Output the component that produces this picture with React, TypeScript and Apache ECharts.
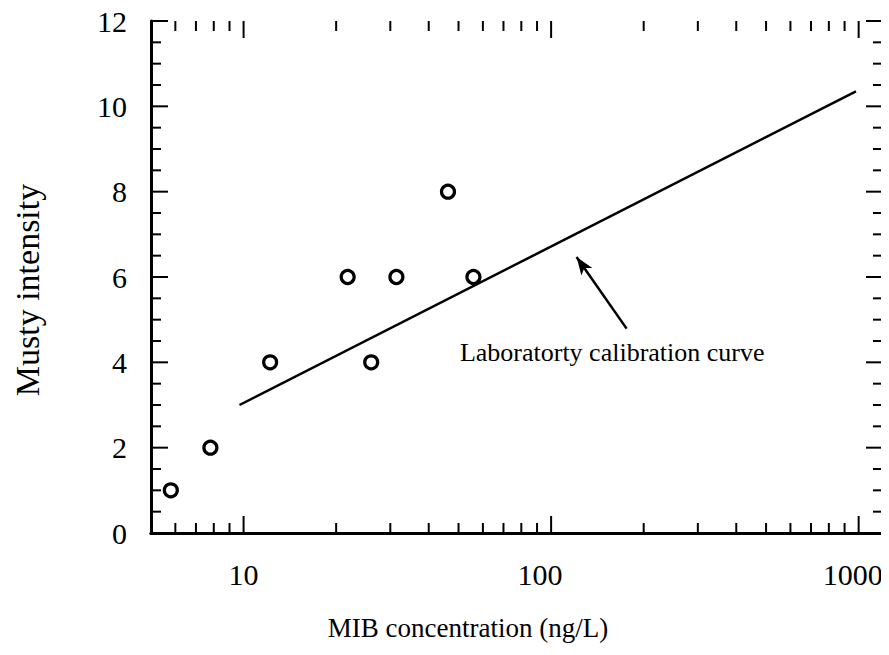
import React, { useEffect, useRef } from "react";
import * as echarts from "echarts";

// MIB concentration (ng/L) vs. panel musty intensity
const mibConcentration = [5.8, 7.8, 12.2, 21.8, 26.0, 31.4, 46.2, 55.9];
const mustyIntensity = [1, 2, 4, 6, 4, 6, 8, 6];

// Laboratory calibration curve end points
const calibrationX = [9.7, 980];
const calibrationY = [3.0, 10.35];

// Annotation arrow (tail -> head) and label anchor
const arrowTail = [176, 4.79];
const arrowHead = [121, 6.47];
const noteAnchor = [158, 4.23];
const noteText = "Laboratorty calibration curve";

// Axis ranges and ticks
const xMin = 5;
const xMax = 1200;
const yMin = 0;
const yMax = 12;
const yStep = 2;
const xMajorTicks = [10, 100, 1000];
const xMinorTicks = [6, 7, 8, 9, 20, 30, 40, 50, 60, 70, 80, 90, 200, 300, 400, 500, 600, 700, 800, 900];
const yMajorTicks = [0, 2, 4, 6, 8, 10, 12];
const yMinorTicks = [0.5, 1, 1.5, 2.5, 3, 3.5, 4.5, 5, 5.5, 6.5, 7, 7.5, 8.5, 9, 9.5, 10.5, 11, 11.5];

const FONT = "'Liberation Serif', 'Times New Roman', serif";
const MAJOR_LEN = 17;
const MINOR_LEN = 10;

export default function App() {
  const ref = useRef<HTMLDivElement>(null);

  useEffect(() => {
    if (!ref.current) return;
    const chart = echarts.init(ref.current, null, { renderer: "svg" });

    const axisLine = { show: true, lineStyle: { color: "#000", width: 3 } };
    const tickStyle = { stroke: "#000", lineWidth: 2 };

    const xBase = {
      type: "log" as const,
      logBase: 10,
      min: xMin,
      max: xMax,
      axisLine,
      axisTick: { show: false },
      splitLine: { show: false },
    };

    const yBase = {
      type: "value" as const,
      min: yMin,
      max: yMax,
      interval: yStep,
      axisLine,
      axisTick: { show: false },
      minorTick: { show: false },
      splitLine: { show: false },
    };

    const labelStyle = {
      fontSize: 30,
      fontFamily: FONT,
      color: "#000",
    };

    chart.setOption({
      animation: false,
      backgroundColor: "#fff",
      grid: { left: 151, right: 6, top: 21, bottom: 122, containLabel: false },
      xAxis: [
        {
          ...xBase,
          position: "bottom",
          axisLabel: {
            show: true,
            margin: 26,
            ...labelStyle,
            formatter: (v: number) => {
              const r = Math.round(v);
              if (!xMajorTicks.includes(r) || Math.abs(v - r) > 1e-6 * r) return "";
              if (r === 100) return "{p100|" + r + "}";
              if (r === 1000) return "{p1000|" + r + "}";
              return String(r);
            },
            rich: {
              p100: { ...labelStyle, padding: [0, 22, 0, 0] },
              p1000: { ...labelStyle, padding: [0, 12, 0, 0] },
            },
          },
        },
        {
          ...xBase,
          position: "top",
          axisLabel: { show: false },
        },
      ],
      yAxis: [
        {
          ...yBase,
          position: "left",
          axisLabel: { show: true, margin: 24, ...labelStyle },
        },
        {
          ...yBase,
          position: "right",
          axisLabel: { show: false },
        },
      ],
      graphic: [
        {
          type: "text",
          x: 468,
          y: 628,
          style: {
            text: "MIB concentration (ng/L)",
            fontSize: 27,
            fontFamily: FONT,
            fill: "#000",
            textAlign: "center",
            textVerticalAlign: "middle",
          },
        },
        {
          type: "text",
          x: 27,
          y: 290,
          rotation: Math.PI / 2,
          style: {
            text: "Musty intensity",
            fontSize: 34,
            fontFamily: FONT,
            fill: "#000",
            textAlign: "center",
            textVerticalAlign: "middle",
          },
        },
      ],
      series: [
        {
          // inward ticks on the bottom and top frame (log scale)
          type: "custom",
          xAxisIndex: 0,
          yAxisIndex: 0,
          silent: true,
          clip: false,
          data: [
            ...xMajorTicks.map((v) => [v, yMin, MAJOR_LEN]),
            ...xMinorTicks.map((v) => [v, yMin, MINOR_LEN]),
          ],
          renderItem: (_params: any, api: any) => {
            const v = api.value(0);
            const len = api.value(2);
            const b = api.coord([v, yMin]);
            const t = api.coord([v, yMax]);
            return {
              type: "group",
              children: [
                { type: "line", shape: { x1: b[0], y1: b[1], x2: b[0], y2: b[1] - len }, style: tickStyle },
                { type: "line", shape: { x1: t[0], y1: t[1], x2: t[0], y2: t[1] + len }, style: tickStyle },
              ],
            };
          },
        },
        {
          // inward ticks on the left and right frame
          type: "custom",
          xAxisIndex: 0,
          yAxisIndex: 0,
          silent: true,
          clip: false,
          data: [
            ...yMajorTicks.map((v) => [xMin, v, MAJOR_LEN]),
            ...yMinorTicks.map((v) => [xMin, v, MINOR_LEN]),
          ],
          renderItem: (_params: any, api: any) => {
            const v = api.value(1);
            const len = api.value(2);
            const l = api.coord([xMin, v]);
            const r = api.coord([xMax, v]);
            return {
              type: "group",
              children: [
                { type: "line", shape: { x1: l[0], y1: l[1], x2: l[0] + len, y2: l[1] }, style: tickStyle },
                { type: "line", shape: { x1: r[0], y1: r[1], x2: r[0] - len, y2: r[1] }, style: tickStyle },
              ],
            };
          },
        },
        {
          type: "line",
          xAxisIndex: 0,
          yAxisIndex: 0,
          silent: true,
          symbol: "none",
          lineStyle: { color: "#000", width: 2.5 },
          data: calibrationX.map((x, i) => [x, calibrationY[i]]),
          markLine: {
            silent: true,
            symbol: ["none", "arrow"],
            symbolSize: [10, 18],
            label: { show: false },
            lineStyle: { color: "#000", width: 2.5, type: "solid" },
            data: [[{ coord: arrowTail }, { coord: arrowHead }]],
          },
        },
        {
          type: "scatter",
          xAxisIndex: 0,
          yAxisIndex: 0,
          silent: true,
          symbol: "circle",
          symbolSize: 13,
          itemStyle: { color: "#fff", borderColor: "#000", borderWidth: 3.2, opacity: 1 },
          data: mibConcentration.map((x, i) => [x, mustyIntensity[i]]),
          z: 5,
        },
        {
          type: "scatter",
          xAxisIndex: 0,
          yAxisIndex: 0,
          silent: true,
          symbolSize: 1,
          itemStyle: { color: "rgba(0,0,0,0)", opacity: 1 },
          label: {
            show: true,
            position: "inside",
            formatter: noteText,
            fontSize: 26,
            fontFamily: FONT,
            color: "#000",
          },
          data: [noteAnchor],
        },
      ],
    });

    return () => chart.dispose();
  }, []);

  return <div ref={ref} style={{ width: 889, height: 655, margin: -8 }} />;
}
